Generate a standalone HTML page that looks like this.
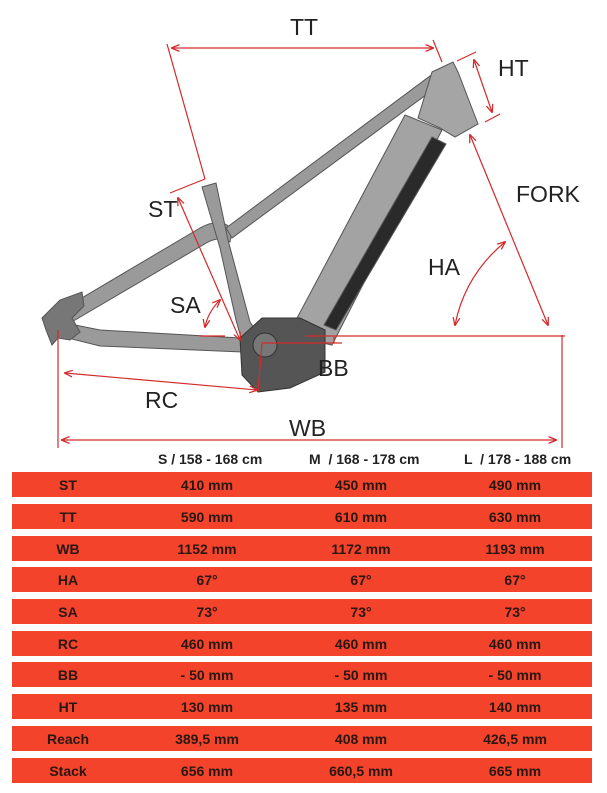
<!DOCTYPE html>
<html><head><meta charset="utf-8"><style>
body{margin:0;background:#fff;width:607px;height:793px;overflow:hidden;position:relative;font-family:"Liberation Sans",sans-serif}
svg{position:absolute;left:0;top:0}
.hdr{position:absolute;top:451px;font-weight:bold;font-size:14px;color:#222;white-space:pre}
.row{position:absolute;left:12px;width:580px;height:25px;background:#f4432b;font-weight:bold;font-size:14px;color:#2a1612}
.row span{position:absolute;top:5px;width:160px;text-align:center}
</style></head><body>
<svg width="607" height="450" viewBox="0 0 607 450">
<defs><marker id="a" viewBox="0 0 10 10" refX="9" refY="5" markerWidth="7" markerHeight="7" orient="auto-start-reverse"><path d="M0,1 L10,5 L0,9" fill="none" stroke="#d42a2a" stroke-width="1.5"/></marker></defs>
<g fill="#9a9a9a" stroke="#555" stroke-width="1">
<!-- seat stay -->
<path d="M48,318 L200,228 Q222,216 232,230 L230,242 Q220,236 208,242 L58,330 Z"/>
<!-- chainstay -->
<path d="M60,322 L100,330 L240,338 L242,352 L100,346 L60,336 Z"/>
<!-- dropout -->
<path d="M42,318 L60,300 L82,292 L84,306 L72,318 L80,332 L70,340 L58,338 L52,345 L46,330 Z" fill="#777"/>
<!-- top tube -->
<path d="M226,228 L430,76 L438,86 L232,238 Z"/>
<!-- seat tube -->
<path d="M202,187 L216,183 L228,240 L250,322 L262,340 L245,352 L236,320 L220,248 Z"/>
<!-- down tube -->
<path d="M405,115 L442,130 L332,345 L288,335 Z" fill="#a3a3a3"/>
<path d="M432,137 L446,144 L336,330 L324,325 Z" fill="#2a2a2a"/>
<!-- head tube -->
<path d="M432,72 L453,62 L458,72 L478,124 L455,137 L440,128 L418,118 Z" fill="#a5a5a5"/>
<!-- motor -->
<path d="M240,338 L262,318 L300,318 L325,330 L325,372 L290,388 L258,392 L242,375 Z" fill="#555" stroke="#333"/>
<circle cx="265" cy="345" r="12" fill="#777" stroke="#333"/>
</g>
<g stroke="#d42a2a" stroke-width="1.2" fill="none">
<line x1="172" y1="48" x2="433" y2="48" marker-start="url(#a)" marker-end="url(#a)"/>
<line x1="167" y1="44" x2="205" y2="179"/><line x1="170" y1="193" x2="205" y2="179"/>
<line x1="433" y1="40" x2="442" y2="62"/>
<line x1="474" y1="60" x2="492" y2="112" marker-start="url(#a)" marker-end="url(#a)"/>
<line x1="457" y1="61" x2="476" y2="52"/><line x1="485" y1="122" x2="500" y2="114"/>
<line x1="470" y1="135" x2="548" y2="325" marker-start="url(#a)" marker-end="url(#a)"/>
<path d="M455,325 Q465,275 505,242" marker-start="url(#a)" marker-end="url(#a)"/>
<line x1="178" y1="198" x2="240" y2="340" marker-start="url(#a)" marker-end="url(#a)"/>
<path d="M205,327 Q208,312 220,300" marker-start="url(#a)" marker-end="url(#a)"/>
<line x1="200" y1="336" x2="225" y2="336"/>
<line x1="305" y1="336" x2="565" y2="336"/>
<line x1="262" y1="343" x2="342" y2="343"/>
<line x1="334" y1="337" x2="334" y2="343"/>
<line x1="262" y1="343" x2="258" y2="392"/>
<line x1="65" y1="373" x2="257" y2="390" marker-start="url(#a)" marker-end="url(#a)"/>
<line x1="58" y1="330" x2="58" y2="448"/>
<line x1="562" y1="335" x2="562" y2="448"/>
<line x1="62" y1="440" x2="556" y2="440" marker-start="url(#a)" marker-end="url(#a)"/>
</g>
<g fill="#222" font-size="23" font-family="Liberation Sans,sans-serif">
<text x="290" y="35">TT</text><text x="498" y="76">HT</text><text x="516" y="202">FORK</text>
<text x="428" y="275">HA</text><text x="148" y="217">ST</text><text x="170" y="313">SA</text>
<text x="318" y="376">BB</text><text x="145" y="408">RC</text><text x="289" y="436">WB</text>
</g>
</svg>
<div class="hdr" style="left:158px">S / 158 - 168 cm</div>
<div class="hdr" style="left:309px">M  / 168 - 178 cm</div>
<div class="hdr" style="left:464px">L  / 178 - 188 cm</div>
<div class="row" style="top:472px"><span style="left:-24px">ST</span><span style="left:115px">410 mm</span><span style="left:269px">450 mm</span><span style="left:423px">490 mm</span></div>
<div class="row" style="top:504px"><span style="left:-24px">TT</span><span style="left:115px">590 mm</span><span style="left:269px">610 mm</span><span style="left:423px">630 mm</span></div>
<div class="row" style="top:536px"><span style="left:-24px">WB</span><span style="left:115px">1152 mm</span><span style="left:269px">1172 mm</span><span style="left:423px">1193 mm</span></div>
<div class="row" style="top:567px"><span style="left:-24px">HA</span><span style="left:115px">67°</span><span style="left:269px">67°</span><span style="left:423px">67°</span></div>
<div class="row" style="top:599px"><span style="left:-24px">SA</span><span style="left:115px">73°</span><span style="left:269px">73°</span><span style="left:423px">73°</span></div>
<div class="row" style="top:631px"><span style="left:-24px">RC</span><span style="left:115px">460 mm</span><span style="left:269px">460 mm</span><span style="left:423px">460 mm</span></div>
<div class="row" style="top:662px"><span style="left:-24px">BB</span><span style="left:115px">- 50 mm</span><span style="left:269px">- 50 mm</span><span style="left:423px">- 50 mm</span></div>
<div class="row" style="top:694px"><span style="left:-24px">HT</span><span style="left:115px">130 mm</span><span style="left:269px">135 mm</span><span style="left:423px">140 mm</span></div>
<div class="row" style="top:726px"><span style="left:-24px">Reach</span><span style="left:115px">389,5 mm</span><span style="left:269px">408 mm</span><span style="left:423px">426,5 mm</span></div>
<div class="row" style="top:758px"><span style="left:-24px">Stack</span><span style="left:115px">656 mm</span><span style="left:269px">660,5 mm</span><span style="left:423px">665 mm</span></div>
</body></html>
